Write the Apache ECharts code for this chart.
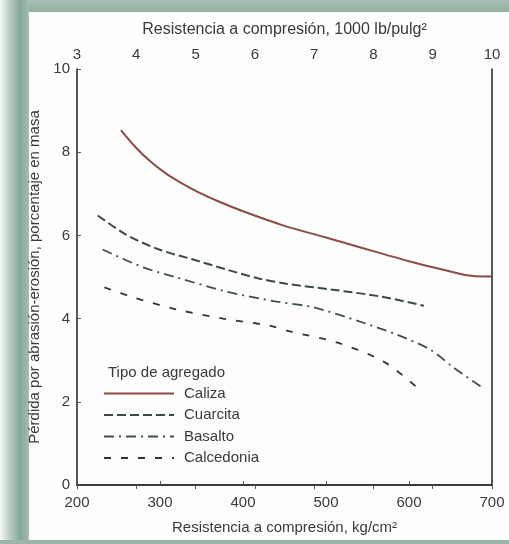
<!DOCTYPE html>
<html><head><meta charset="utf-8">
<script src="https://cdn.jsdelivr.net/npm/echarts@6/dist/echarts.min.js"></script>
<style>html,body{margin:0;padding:0;background:#fff}#c{width:509px;height:544px}</style>
</head><body><div id="c"></div>
<script>
const calizaX = [253, 270, 290, 310, 340, 370, 400, 450, 500, 550, 600, 640, 670, 690, 700];
const calizaY = [8.53, 8.13, 7.75, 7.45, 7.1, 6.82, 6.58, 6.23, 5.95, 5.66, 5.38, 5.18, 5.04, 5.01, 5.01];
const cuarcitaX = [225, 259, 299, 340, 380, 420, 452, 506, 566, 618];
const cuarcitaY = [6.48, 6.02, 5.66, 5.42, 5.18, 4.96, 4.84, 4.70, 4.53, 4.31];
const basaltoX = [231, 280, 320, 380, 440, 485, 545, 586, 626, 654, 687];
const basaltoY = [5.66, 5.23, 4.99, 4.65, 4.41, 4.27, 3.9, 3.61, 3.25, 2.82, 2.36];
const calcedoniaX = [233, 268, 320, 376, 432, 457, 514, 570, 614];
const calcedoniaY = [4.75, 4.51, 4.22, 4.0, 3.83, 3.69, 3.42, 2.96, 2.27];
const seriesNames = ['Caliza', 'Cuarcita', 'Basalto', 'Calcedonia'];
const legendTitle = 'Tipo de agregado';
const xName = 'Resistencia a compresión, kg/cm²';
const x2Name = 'Resistencia a compresión, 1000 lb/pulg²';
const yName = 'Pérdida por abrasión-erosión, porcentaje en masa';

function pairs(xs, ys) { return xs.map((x, i) => [x, ys[i]]); }

const txt = '#3a3a3a';
const fs = 15;
const axisLineStyle = { color: '#2e2e2e', width: 1.6 };
const font = 'Liberation Sans, Arial, sans-serif';

const chart = echarts.init(document.getElementById('c'));
chart.setOption({
  animation: false,
  backgroundColor: '#fdfdfb',
  textStyle: { fontFamily: font },
  graphic: [
    { type: 'rect', z: -10, shape: { x: 0, y: 0, width: 509, height: 12 },
      style: { fill: new echarts.graphic.LinearGradient(0, 0, 0, 1, [{offset: 0, color: '#a7c0b1'}, {offset: 1, color: '#94b2a1'}]) } },
    { type: 'rect', z: -10, shape: { x: 0, y: 0, width: 29, height: 544 },
      style: { fill: new echarts.graphic.LinearGradient(0, 0, 1, 0, [{offset: 0, color: '#f6f8f7'}, {offset: 0.35, color: '#b7cbbf'}, {offset: 0.7, color: '#86a694'}, {offset: 1, color: '#a4bfaf'}]) } },
    { type: 'rect', z: -10, shape: { x: 0, y: 540, width: 509, height: 4 },
      style: { fill: '#9ab6a6' } },
    { type: 'text', left: 108, top: 365, style: { text: legendTitle, fill: txt, font: fs + 'px ' + font } }
  ],
  grid: { left: 77, right: 17, top: 69, bottom: 59 },
  legend: {
    orient: 'vertical', left: 103, top: 386, padding: 0, itemWidth: 70, itemHeight: 15, itemGap: 6.5,
    itemStyle: { opacity: 0 },
    data: seriesNames, textStyle: { color: txt, fontSize: fs, padding: [0, 0, 0, 5] }
  },
  xAxis: [
    { type: 'value', min: 200, max: 700, interval: 100, position: 'bottom',
      name: xName, nameLocation: 'middle', nameGap: 35, nameTextStyle: { color: txt, fontSize: fs },
      axisLine: { show: true, lineStyle: axisLineStyle },
      axisTick: { show: true, inside: true, length: 4, lineStyle: { color: '#555' } },
      axisLabel: { color: txt, fontSize: fs, margin: 10 }, splitLine: { show: false } },
    { type: 'value', min: 3, max: 10, interval: 1, position: 'top',
      name: x2Name, nameLocation: 'middle', nameGap: 31, nameTextStyle: { color: txt, fontSize: 16 },
      axisLine: { show: true, lineStyle: axisLineStyle },
      axisTick: { show: true, inside: true, length: 4, lineStyle: { color: '#555' } },
      axisLabel: { color: txt, fontSize: fs, margin: 7 }, splitLine: { show: false } }
  ],
  yAxis: [
    { type: 'value', min: 0, max: 10, interval: 2, position: 'left',
      name: yName, nameLocation: 'middle', nameGap: 26, nameTextStyle: { color: txt, fontSize: fs },
      axisLine: { show: true, lineStyle: axisLineStyle },
      axisTick: { show: true, inside: true, length: 4, lineStyle: { color: '#555' } },
      axisLabel: { color: txt, fontSize: fs, margin: 7 }, splitLine: { show: false } },
    { type: 'value', min: 0, max: 10, position: 'right',
      axisLine: { show: true, lineStyle: axisLineStyle },
      axisTick: { show: false }, axisLabel: { show: false }, splitLine: { show: false } }
  ],
  series: [
    { name: seriesNames[0], type: 'line', smooth: 0.3, symbol: 'none', data: pairs(calizaX, calizaY),
      lineStyle: { color: '#8a4c48', width: 2 }, itemStyle: { color: '#8a4c48' } },
    { name: seriesNames[1], type: 'line', smooth: 0.3, symbol: 'none', data: pairs(cuarcitaX, cuarcitaY),
      lineStyle: { color: '#3b4a44', width: 2, type: [9, 4] }, itemStyle: { color: '#3b4a44' } },
    { name: seriesNames[2], type: 'line', smooth: 0.3, symbol: 'none', data: pairs(basaltoX, basaltoY),
      lineStyle: { color: '#3f504a', width: 1.8, type: [10, 5, 2, 5] }, itemStyle: { color: '#3f504a' } },
    { name: seriesNames[3], type: 'line', smooth: 0.3, symbol: 'none', data: pairs(calcedoniaX, calcedoniaY),
      lineStyle: { color: '#333', width: 1.8, type: [7, 10] }, itemStyle: { color: '#333' } }
  ]
});
</script></body></html>
